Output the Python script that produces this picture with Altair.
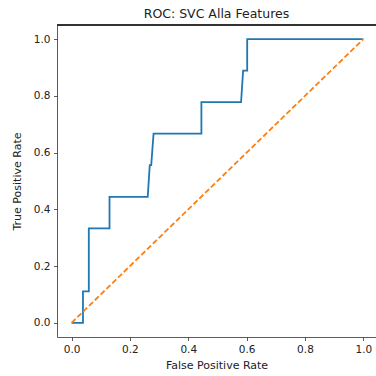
import altair as alt
import pandas as pd

fpr = [0.0, 0.039, 0.039, 0.059, 0.059, 0.130, 0.130, 0.261, 0.268, 0.273, 0.281,
       0.445, 0.445, 0.581, 0.588, 0.602, 0.602, 1.0]
tpr = [0.0, 0.0, 0.111, 0.111, 0.333, 0.333, 0.444, 0.444, 0.556, 0.556, 0.667,
       0.667, 0.778, 0.778, 0.889, 0.889, 1.0, 1.0]
diag_x = [0.0, 1.0]
diag_y = [0.0, 1.0]
ticks = [0.0, 0.2, 0.4, 0.6, 0.8, 1.0]

W, H = 319, 312
roc = pd.DataFrame({"fpr": fpr, "tpr": tpr, "i": range(len(fpr))})
diag = pd.DataFrame({"fpr": diag_x, "tpr": diag_y, "i": range(len(diag_x))})

xs = alt.Scale(domain=[-0.05, 1.0435], nice=False, zero=False)
ys = alt.Scale(domain=[-0.05, 1.05], nice=False, zero=False)
xa = alt.Axis(values=ticks, format=".1f", title="False Positive Rate", labelFlush=False,
              titlePadding=5)
ya = alt.Axis(values=ticks, format=".1f", title="True Positive Rate", labelFlush=False,
              titlePadding=11)

roc_line = alt.Chart(roc).mark_line(color="#1f77b4", strokeWidth=1.8).encode(
    x=alt.X("fpr:Q", scale=xs, axis=xa),
    y=alt.Y("tpr:Q", scale=ys, axis=ya),
    order="i:Q",
)
diag_line = alt.Chart(diag).mark_line(color="#ff7f0e", strokeWidth=1.8, strokeDash=[5.5, 2.6]).encode(
    x=alt.X("fpr:Q", scale=xs),
    y=alt.Y("tpr:Q", scale=ys),
    order="i:Q",
)
top_spine = alt.Chart(roc).mark_rule(color="#333", strokeWidth=0.8).encode(
    y=alt.value(0), x=alt.value(0), x2=alt.value(W)
)

chart = alt.layer(roc_line, diag_line, top_spine).properties(
    width=W, height=H,
    title=alt.TitleParams("ROC: SVC Alla Features", fontSize=12.5, font="DejaVu Sans",
                          fontWeight="normal", color="#222", offset=4,
                          anchor="middle", frame="group"),
    autosize=alt.AutoSizeParams(type="none"),
    padding={"left": 57, "top": 25, "right": 0, "bottom": 39},
).configure_view(stroke=None).configure_axis(
    grid=False, domainColor="#333", tickColor="#333", domainWidth=0.8, tickWidth=0.8,
    tickSize=3.5, labelFont="DejaVu Sans", labelFontSize=10.5, labelColor="#222",
    titleFont="DejaVu Sans", titleFontSize=11, titleFontWeight="normal", titleColor="#222",
    labelPadding=3.5,
)

chart.save("out.html", embed_options={"renderer": "svg", "actions": False})
